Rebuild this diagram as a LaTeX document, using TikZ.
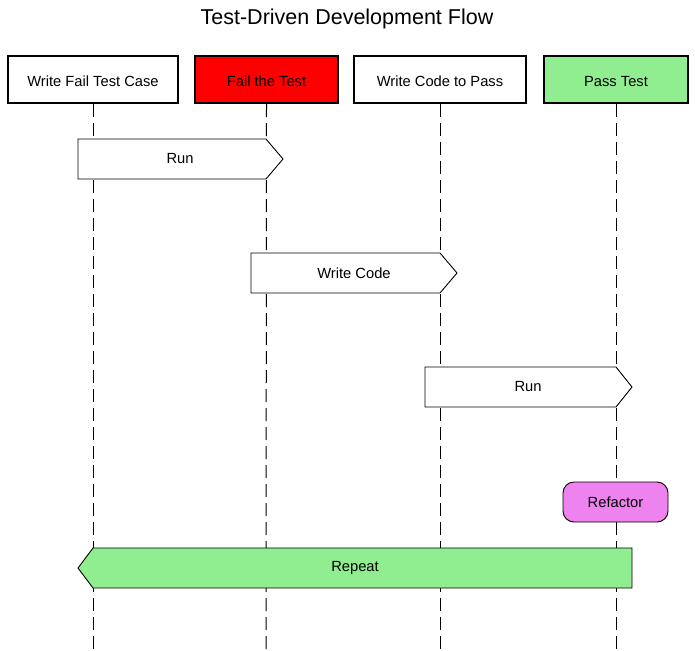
\documentclass[tikz,border=0pt]{standalone}
\usepackage{fontspec}
\setmainfont{Liberation Sans}
\tikzset{
  actorbox/.style={draw,line width=2.2pt,minimum width=#1,minimum height=47pt,inner sep=0pt,text height=13.4pt,text depth=0pt,font=\fontsize{14.7}{17}\selectfont},
  msgtext/.style={font=\fontsize{14.7}{17}\selectfont},
  lifeline/.style={line width=1pt,dash pattern=on 13pt off 6pt},
  msgshape/.style={line width=0.9pt,line join=miter},
}
\definecolor{failred}{HTML}{FF0000}
\definecolor{passgreen}{HTML}{90EE90}
\definecolor{refviolet}{HTML}{EE82EE}
\begin{document}
\begin{tikzpicture}[x=1pt,y=-1pt]
\useasboundingbox (0,0) rectangle (695,650);
\node[font=\fontsize{21.5}{25}\selectfont] (title) at (347,19) {Test-Driven Development Flow};

% actors
\node[actorbox=170pt] (wfail) at (93,79.5) {Write Fail Test Case};
\node[actorbox=143pt,fill=failred] (fail) at (266.5,79.5) {Fail the Test};
\node[actorbox=172pt] (wcode) at (440,79.5) {Write Code to Pass};
\node[actorbox=144pt,fill=passgreen] (pass) at (616,79.5) {Pass Test};

% lifelines
\coordinate (wfailE) at (93,650);
\coordinate (failE) at (266,650);
\coordinate (wcodeE) at (440,650);
\coordinate (passE) at (616,650);
\draw[lifeline] (wfail.south) -- (wfailE);
\draw[lifeline] (fail.south) -- (failE);
\draw[lifeline] (wcode.south) -- (wcodeE);
\draw[lifeline] (pass.south) -- (passE);

% messages
\filldraw[msgshape,fill=white](78,139)--(266,139)--(283,159)--(266,179)--(78,179)--cycle;
\node[msgtext] (run1) at (180,159) {Run};
\filldraw[msgshape,fill=white](251,253)--(440,253)--(457,273)--(440,293)--(251,293)--cycle;
\node[msgtext] (wcodemsg) at (354,273) {Write Code};
\filldraw[msgshape,fill=white](425,367)--(616,367)--(632,387)--(616,407)--(425,407)--cycle;
\node[msgtext] (run2) at (528,387) {Run};

\node[draw,fill=refviolet,line width=0.9pt,rounded corners=11pt,minimum width=105pt,minimum height=40pt,msgtext] (refactor) at (615.5,502) {Refactor};

\filldraw[msgshape,fill=passgreen](632,548)--(93,548)--(78,568)--(93,588)--(632,588)--cycle;
\node[msgtext] (repeat) at (355,568) {Repeat};
\end{tikzpicture}
\end{document}
